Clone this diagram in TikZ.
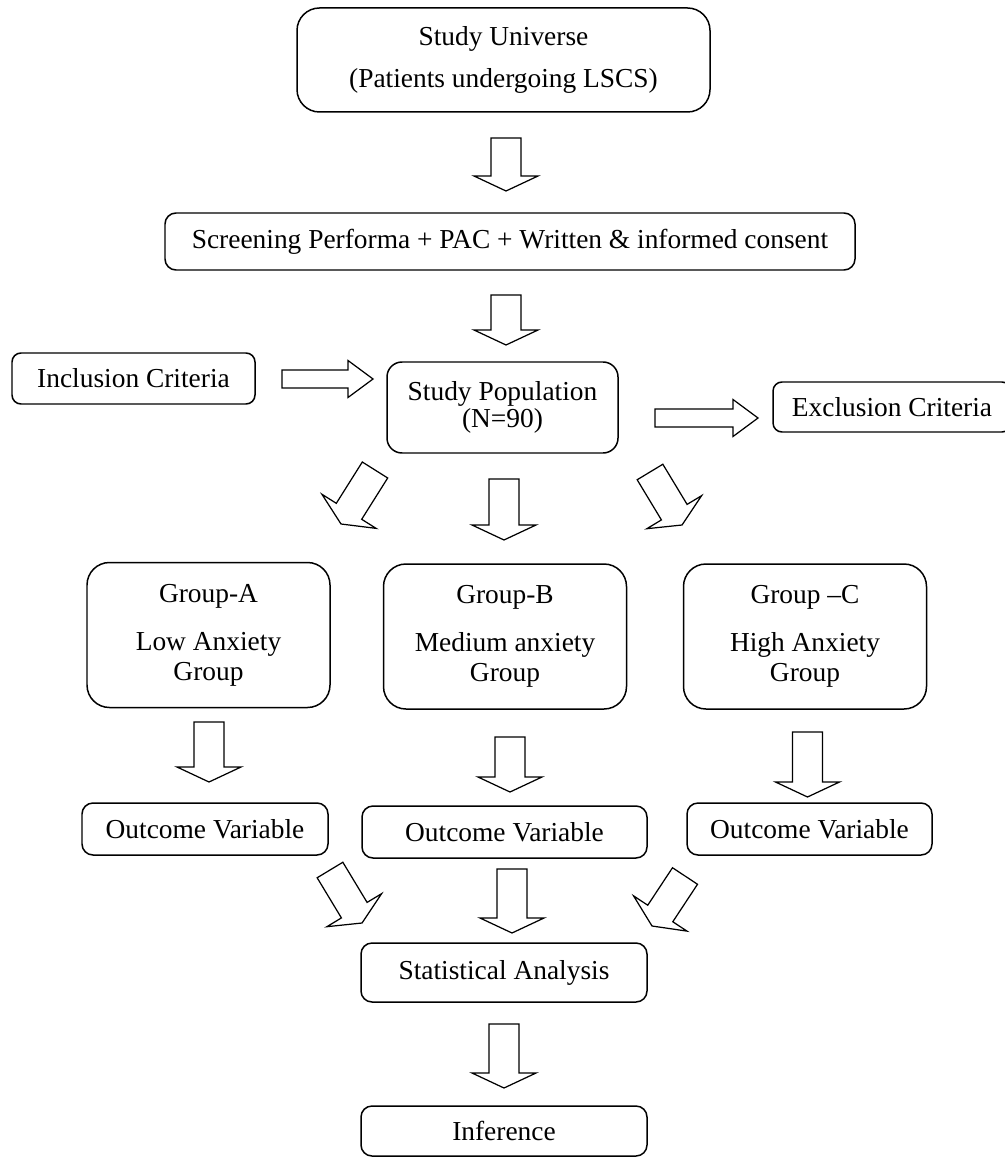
\documentclass[tikz,border=0pt]{standalone}
\usepackage{fontspec}
\setmainfont{Liberation Serif}
\usepackage{tikz}
\usetikzlibrary{calc}

\tikzset{
	box/.style={draw, line width=0.85pt, rounded corners=0.22cm, align=center, inner sep=0pt,
		font=\fontsize{15.6}{17}\selectfont},
	bigbox/.style={box, rounded corners=0.45cm},
	barrow/.style={draw, fill=white, line width=0.7pt, line join=miter}
}

% hollow block arrow: from, to, half shaft, half head, head length
\newcommand{\arrowshape}[5]{%
	\coordinate (hb) at ($(#2)!#5!(#1)$);
	\draw[barrow] ($(#1)!#3!90:(#2)$) -- ($(hb)!#3!-90:(#1)$) -- ($(hb)!#4!-90:(#1)$) -- (#2)
		-- ($(hb)!#4!90:(#1)$) -- ($(hb)!#3!90:(#1)$) -- ($(#1)!#3!-90:(#2)$) -- cycle;
}
\newcommand{\blockarrow}[2]{\arrowshape{#1}{#2}{0.3cm}{0.64cm}{0.3cm}}
\newcommand{\sidearrow}[2]{\arrowshape{#1}{#2}{0.18cm}{0.37cm}{0.5cm}}

\begin{document}
\begin{tikzpicture}
			\useasboundingbox (0,0) rectangle (20.1,-23.16);
			
			\node[bigbox, minimum width=8.26cm, minimum height=2.08cm] (univ) at (10.07,-1.20)
				{Study Universe\\[0.26cm](Patients undergoing LSCS)};
			\node[box, minimum width=13.8cm, minimum height=1.14cm] (scr) at (10.2,-4.83)
				{Screening Performa + PAC + Written \& informed consent};
			\node[box, rounded corners=0.18cm, minimum width=4.86cm, minimum height=1.02cm] (incl) at (2.67,-7.57)
				{Inclusion Criteria};
			\node[box, rounded corners=0.3cm, minimum width=4.62cm, minimum height=1.82cm] (pop) at (10.05,-8.15)
				{Study Population\\[-0.06cm](N=90)};
			\node[box, rounded corners=0.18cm, minimum width=4.76cm, minimum height=1.0cm] (excl) at (17.84,-8.14)
				{Exclusion Criteria};
			
			\node[bigbox, minimum width=4.86cm, minimum height=2.9cm] (grpA) at (4.17,-12.70)
				{Group-A\\[0.36cm]Low Anxiety\\Group};
			\node[bigbox, minimum width=4.86cm, minimum height=2.9cm] (grpB) at (10.10,-12.73)
				{Group-B\\[0.36cm]Medium anxiety\\Group};
			\node[bigbox, minimum width=4.86cm, minimum height=2.9cm] (grpC) at (16.10,-12.73)
				{Group --C\\[0.36cm]High Anxiety\\Group};
			
			\node[box, minimum width=4.92cm, minimum height=1.04cm] (outA) at (4.10,-16.58) {Outcome Variable};
			\node[box, minimum width=5.7cm, minimum height=1.04cm] (outB) at (10.09,-16.64) {Outcome Variable};
			\node[box, minimum width=4.9cm, minimum height=1.04cm] (outC) at (16.19,-16.58) {Outcome Variable};
			
			\node[box, minimum width=5.72cm, minimum height=1.18cm] (stat) at (10.08,-19.45) {Statistical Analysis};
			\node[box, minimum width=5.72cm, minimum height=1.0cm] (inf) at (10.08,-22.62) {Inference};
			
			% arrow ends
			\coordinate (a1s) at (10.12,-2.76);  \coordinate (a1e) at (10.12,-3.82);
			\coordinate (a2s) at (10.12,-5.90);  \coordinate (a2e) at (10.12,-6.90);
			\coordinate (a3s) at (5.64,-7.58);   \coordinate (a3e) at (7.46,-7.58);
			\coordinate (a4s) at (13.10,-8.36);  \coordinate (a4e) at (15.16,-8.36);
			\coordinate (a5s) at (7.50,-9.40);   \coordinate (a5e) at (6.82,-10.48);
			\coordinate (a6s) at (10.08,-9.58);  \coordinate (a6e) at (10.08,-10.80);
			\coordinate (a7s) at (13.00,-9.44);  \coordinate (a7e) at (13.64,-10.50);
			\coordinate (a8s) at (4.18,-14.44);  \coordinate (a8e) at (4.18,-15.64);
			\coordinate (a9s) at (10.20,-14.74); \coordinate (a9e) at (10.20,-15.84);
			\coordinate (a10s) at (16.15,-14.64); \coordinate (a10e) at (16.15,-15.94);
			\coordinate (a11s) at (6.60,-17.40); \coordinate (a11e) at (7.24,-18.46);
			\coordinate (a12s) at (10.24,-17.38); \coordinate (a12e) at (10.24,-18.66);
			\coordinate (a13s) at (13.70,-17.52); \coordinate (a13e) at (13.04,-18.52);
			\coordinate (a14s) at (10.08,-20.48); \coordinate (a14e) at (10.08,-21.76);
			
			\blockarrow{a1s}{a1e}
			\blockarrow{a2s}{a2e}
			\sidearrow{a3s}{a3e}
			\sidearrow{a4s}{a4e}
			\blockarrow{a5s}{a5e}
			\blockarrow{a6s}{a6e}
			\blockarrow{a7s}{a7e}
			\blockarrow{a8s}{a8e}
			\blockarrow{a9s}{a9e}
			\blockarrow{a10s}{a10e}
			\blockarrow{a11s}{a11e}
			\blockarrow{a12s}{a12e}
			\blockarrow{a13s}{a13e}
			\blockarrow{a14s}{a14e}
		\end{tikzpicture}
\end{document}
